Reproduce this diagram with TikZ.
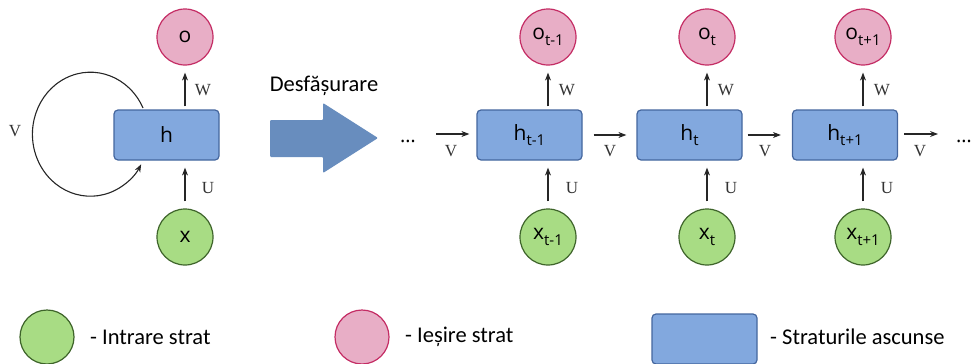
\documentclass[tikz,border=0pt]{standalone}
\usepackage{fontspec}
\setmainfont{Liberation Serif}
\newfontfamily\nodefont{Open Sans}
\newfontfamily\calfont{Carlito}
\usetikzlibrary{arrows.meta,calc}
\definecolor{hfill}{RGB}{130,168,222}
\definecolor{hdraw}{RGB}{68,102,158}
\definecolor{ofill}{RGB}{232,174,198}
\definecolor{odraw}{RGB}{196,44,100}
\definecolor{xfill}{RGB}{168,220,132}
\definecolor{xdraw}{RGB}{62,100,42}
\definecolor{bigarrow}{RGB}{104,141,190}
\newcommand\sbs[1]{\raisebox{-0.5ex}{\fontsize{15}{16}\selectfont #1}}
\tikzset{
  hid/.style={draw=hdraw, fill=hfill, line width=1.2pt, rounded corners=4pt,
    minimum width=105pt, minimum height=50pt, inner sep=0pt,
    font=\nodefont\fontsize{21}{23}\selectfont},
  outc/.style={circle, draw=odraw, fill=ofill, line width=1.2pt, minimum size=56pt,
    inner sep=0pt, font=\nodefont\fontsize{21}{23}\selectfont},
  inc/.style={circle, draw=xdraw, fill=xfill, line width=1.2pt, minimum size=56pt,
    inner sep=0pt, font=\nodefont\fontsize{21}{23}\selectfont},
  arr/.style={-{Stealth[length=8pt,width=6pt]}, line width=1.1pt, draw=black!85},
  lab/.style={font=\fontsize{17}{18}\selectfont, text=black!80, inner sep=0pt},
  legtext/.style={anchor=west, font=\calfont\fontsize{22.5}{25}\selectfont, inner sep=0pt},
  dots/.style={font=\nodefont\fontsize{20}{22}\selectfont, inner sep=0pt}
}
\begin{document}
\begin{tikzpicture}[x=1pt,y=-1pt]
\useasboundingbox (0,0) rectangle (977,364);
% folded network
\node[hid] (h0) at (166.5,135) {h};
\node[outc] (o0) at (185,37) {o};
\node[inc] (x0) at (185,237) {x};
\draw[arr, shorten <=3pt, shorten >=7pt] (o0 |- h0.north) -- (o0);
\draw[arr, shorten <=7pt, shorten >=7pt] (x0) -- (o0 |- h0.south);
\node[lab] (w0) at (203,90) {W};
\node[lab] (u0) at (208,188) {U};
\coordinate (loopstart) at (143,108);
\draw[arr] (loopstart) arc[start angle=-25, end angle=-331, x radius=58, y radius=62];
\node[lab] (v0) at (15,131) {V};
% unfold arrow
\fill[bigarrow, rounded corners=1pt] (270,120) -- (323,120) -- (323,103) -- (378,138) -- (323,173) -- (323,157) -- (270,157) -- cycle;
\node[font=\calfont\fontsize{22.5}{24}\selectfont, inner sep=0pt] (desf) at (324,86) {Desfășurare};
% unrolled chain
\node[hid] (h1) at (529.5,135) {h\sbs{t-1}};
\node[hid] (h2) at (689.5,135) {h\sbs{t}};
\node[hid] (h3) at (845,135) {h\sbs{t+1}};
\node[outc] (o1) at (548,37) {o\sbs{t-1}};
\node[outc] (o2) at (707,37) {o\sbs{t}};
\node[outc] (o3) at (863,37) {o\sbs{t+1}};
\node[inc] (x1) at (548,237) {x\sbs{t-1}};
\node[inc] (x2) at (707,237) {x\sbs{t}};
\node[inc] (x3) at (863,237) {x\sbs{t+1}};
\foreach \i in {1,2,3}{
  \draw[arr, shorten <=3pt, shorten >=7pt] (o\i |- h\i.north) -- (o\i);
  \draw[arr, shorten <=7pt, shorten >=7pt] (x\i) -- (o\i |- h\i.south);
  \node[lab] (w\i) at ($(o\i)+(19,53)$) {W};
  \node[lab] (u\i) at ($(o\i)+(24,151)$) {U};
}
\node[dots] (dl) at (408,141) {\dots};
\node[dots] (dr) at (964,141) {\dots};
\coordinate (inL) at (436,134);
\coordinate (outR) at (938,134);
\draw[arr, shorten >=7pt] (inL) -- (inL -| h1.west);
\draw[arr, shorten <=11pt, shorten >=10pt] (h1.east) -- (h2.west);
\draw[arr, shorten <=5pt, shorten >=11pt] (h2.east) -- (h3.west);
\draw[arr, shorten <=6pt] (outR -| h3.east) -- (outR);
\node[lab] (v1) at (451,151) {V};
\node[lab] (v2) at (610,151) {V};
\node[lab] (v3) at (765,151) {V};
\node[lab] (v4) at (920,151) {V};
% legend
\node[inc, minimum size=54pt] (lg) at (47,337) {};
\node[legtext] (lgt) at (90,337) {- Intrare strat};
\node[outc, minimum size=54pt] (lo) at (362,337) {};
\node[legtext] (lot) at (405,337) {- Ieșire strat};
\node[hid] (lh) at (704.5,339) {};
\node[legtext] (lht) at (770,337) {- Straturile ascunse};
\end{tikzpicture}
\end{document}
